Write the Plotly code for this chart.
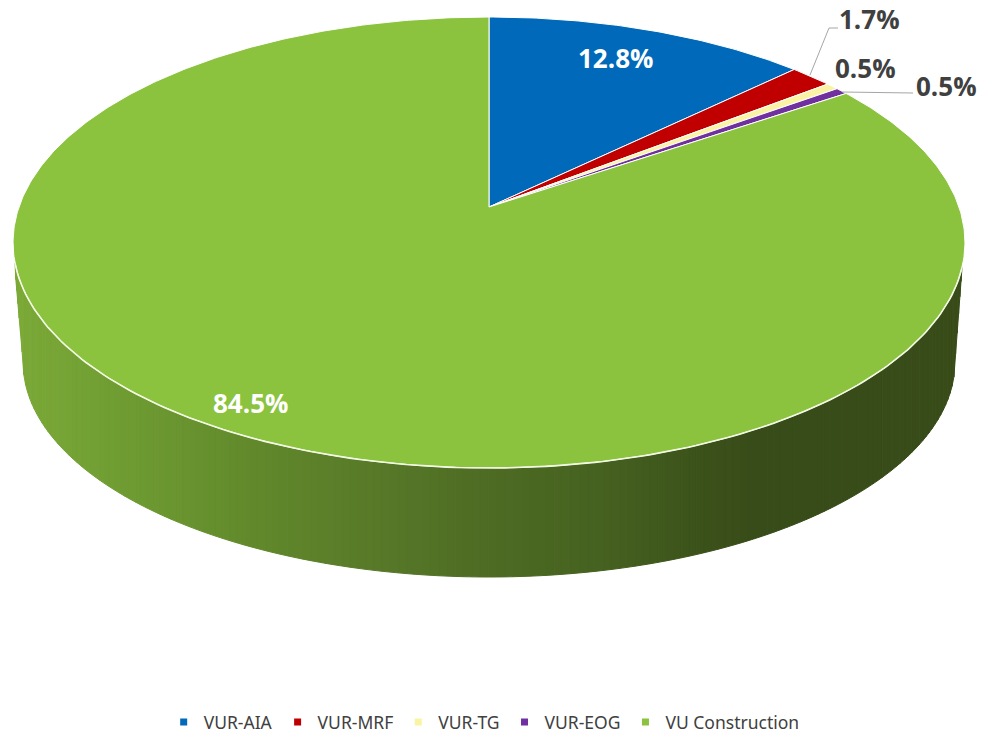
import math
import numpy as np
import plotly.graph_objects as go

categories = ["VUR-AIA", "VUR-MRF", "VUR-TG", "VUR-EOG", "VU Construction"]
values = [12.8, 1.7, 0.5, 0.5, 84.5]
colors = ["#0069B9", "#C00000", "#FBF3A4", "#7030A0", "#8BC33F"]

# pie projection (pixel-like axis units)
APEX_X, APEX_Y = 489.0, 207.0
A, B, K = 470.0, 219.9, -0.1574
TOP_CY, TOP_RX, TOP_RY = 242.5, 476.0, 225.5
BOT_CY, BOT_RX, BOT_RY = 362.0, 466.0, 215.0
EDGE_L = (15.0, 270.0, 23.0, 362.0)
EDGE_R = (962.0, 268.0, 955.0, 362.0)

grad_x = [15, 100, 250, 350, 489, 600, 700, 760, 962]
grad_r = [124, 114, 98, 90, 78, 70, 60, 56, 56]
grad_g = [170, 160, 138, 125, 108, 98, 82, 76, 76]
grad_b = [56, 52, 44, 42, 36, 32, 27, 25, 25]


def project(frac):
    th = 2 * math.pi * frac
    u, v = math.sin(th), -math.cos(th)
    d = 1 + K * v
    return APEX_X + A * u / d, APEX_Y + B * v / d


def y_top(x):
    return TOP_CY + TOP_RY * math.sqrt(max(0.0, 1 - ((x - APEX_X) / TOP_RX) ** 2))


def y_bot(x):
    if x < EDGE_L[2]:
        return EDGE_L[1] + (x - EDGE_L[0]) / (EDGE_L[2] - EDGE_L[0]) * (EDGE_L[3] - EDGE_L[1])
    if x > EDGE_R[2]:
        return EDGE_R[1] + (EDGE_R[0] - x) / (EDGE_R[0] - EDGE_R[2]) * (EDGE_R[3] - EDGE_R[1])
    return BOT_CY + BOT_RY * math.sqrt(max(0.0, 1 - ((x - APEX_X) / BOT_RX) ** 2))


fig = go.Figure()

# Side wall as a gradient of thin strips
t0 = math.acos((APEX_X - EDGE_L[0]) / TOP_RX)
t1 = math.acos((EDGE_R[0] - APEX_X) / TOP_RX)
ts = np.linspace(t0, math.pi - t1, 170)
xs = [APEX_X - TOP_RX * math.cos(t) for t in ts]
for a, b in zip(xs[:-1], xs[1:]):
    m = (a + b) / 2
    col = "rgb(%d,%d,%d)" % (
        np.interp(m, grad_x, grad_r),
        np.interp(m, grad_x, grad_g),
        np.interp(m, grad_x, grad_b),
    )
    fig.add_trace(go.Scatter(
        x=[a, b, b, a, a],
        y=[y_top(a), y_top(b), y_bot(b), y_bot(a), y_top(a)],
        mode="lines", fill="toself", fillcolor=col,
        line=dict(color=col, width=1),
        showlegend=False, hoverinfo="skip",
    ))

# Top-face wedges
total = sum(values)
cum = 0.0
for name, val, col in zip(categories, values, colors):
    start, end = cum / total, (cum + val) / total
    n = max(3, int(val * 6))
    pts = [project(start + (end - start) * i / n) for i in range(n + 1)]
    wx = [APEX_X] + [p[0] for p in pts] + [APEX_X]
    wy = [APEX_Y] + [p[1] for p in pts] + [APEX_Y]
    fig.add_trace(go.Scatter(
        x=wx, y=wy, mode="lines", fill="toself", fillcolor=col,
        line=dict(color="#FFFFFF", width=1),
        name=name, showlegend=False, hoverinfo="skip",
    ))
    cum += val

# Bright rim along the front edge of the top face
fig.add_trace(go.Scatter(x=xs, y=[y_top(x) for x in xs], mode="lines",
                         line=dict(color="#F3F8E2", width=1.6),
                         showlegend=False, hoverinfo="skip"))

# Leader lines
fig.add_trace(go.Scatter(x=[810, 829, 838], y=[75, 28, 28], mode="lines",
                         line=dict(color="#A6A6A6", width=1), showlegend=False, hoverinfo="skip"))
fig.add_trace(go.Scatter(x=[842, 913], y=[92, 93], mode="lines",
                         line=dict(color="#A6A6A6", width=1), showlegend=False, hoverinfo="skip"))

# Legend entries
for name, col in zip(categories, colors):
    fig.add_trace(go.Scatter(x=[None], y=[None], mode="markers", name=name,
                             marker=dict(symbol="square", size=7, color=col)))

# Data labels
label_pos = [(615, 58, "#FFFFFF"), (869, 19, "#404040"), (865, 68, "#404040"),
             (946, 86, "#404040"), (250, 403, "#FFFFFF")]
for val, (lx, ly, lc) in zip(values, label_pos):
    fig.add_annotation(x=lx, y=ly, text=f"{val:.1f}%", showarrow=False,
                       font=dict(family="Open Sans", size=26, color=lc, weight=700))

fig.update_layout(
    width=992, height=733, autosize=False,
    margin=dict(l=0, r=0, t=0, b=0, autoexpand=False),
    paper_bgcolor="white", plot_bgcolor="white",
    xaxis=dict(range=[0, 992], visible=False, fixedrange=True),
    yaxis=dict(range=[733, 0], visible=False, fixedrange=True),
    font=dict(family="Noto Sans", size=17.5, color="#404040"),
    legend=dict(orientation="h", x=0.165, xanchor="left", y=0.015, yanchor="middle",
                bgcolor="rgba(0,0,0,0)", font=dict(size=17.5, color="#404040")),
)
fig.write_html("out.html", config={"displayModeBar": False},
               post_script="document.body.style.margin='0';")
